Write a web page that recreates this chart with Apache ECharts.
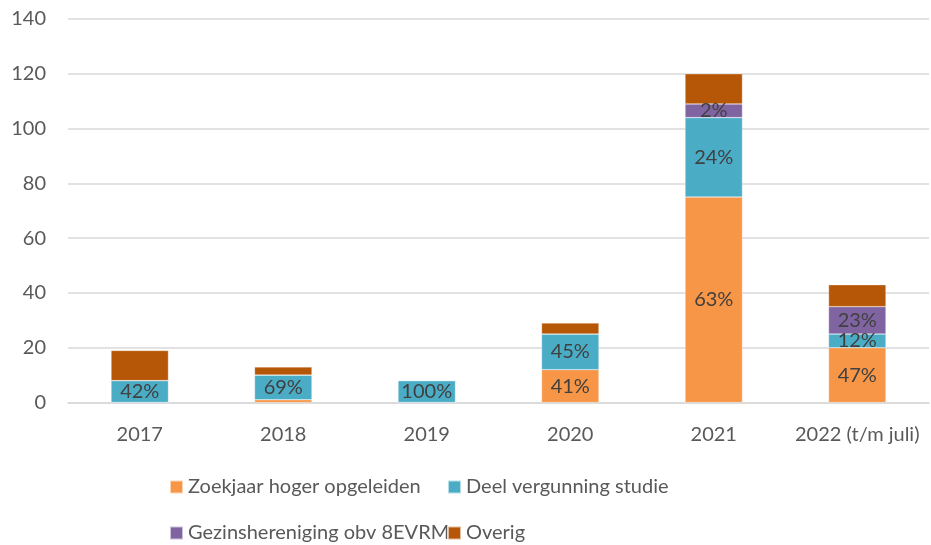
<!DOCTYPE html>
<html>
<head>
<meta charset="utf-8">
<script src="https://cdn.jsdelivr.net/npm/echarts@6/dist/echarts.min.js"></script>
<style>
html, body { margin: 0; padding: 0; background: #fff; }
#chart { width: 931px; height: 545px; }
</style>
</head>
<body>
<div id="chart"></div>
<script>
var categories = ['2017', '2018', '2019', '2020', '2021', '2022 (t/m juli)'];
var seriesNames = ['Zoekjaar hoger opgeleiden', 'Deel vergunning studie', 'Gezinshereniging obv 8EVRM', 'Overig'];
var zoekjaar = [0, 1, 0, 12, 75, 20];
var studie = [8, 9, 8, 13, 29, 5];
var gezin = [0, 0, 0, 0, 5, 10];
var overig = [11, 3, 0, 4, 11, 8];
// percentage labels as printed in the chart
var zoekjaarLabels = ['', '', '', '41%', '63%', '47%'];
var studieLabels = ['42%', '69%', '100%', '45%', '24%', '12%'];
var gezinLabels = ['', '', '', '', '2%', '23%'];
var overigLabels = ['', '', '', '', '', ''];
var yTicks = [0, 20, 40, 60, 80, 100, 120, 140];

var colors = ['#F79646', '#4BACC6', '#8064A2', '#B65708'];
var font = 'Lato';
var fs = 20;

function makeSeries(name, data, labels, color) {
    return {
        name: name,
        type: 'bar',
        stack: 'total',
        barWidth: '40%',
        data: data,
        itemStyle: {
            color: color,
            borderColor: 'rgba(255,255,255,0.6)',
            borderWidth: 0.5
        },
        label: {
            show: true,
            position: 'inside',
            color: '#404040',
            fontFamily: font,
            fontSize: fs,
            formatter: function (p) {
                return labels[p.dataIndex];
            }
        }
    };
}

// one legend per entry, laid out as a 2x2 grid
function makeLegend(name, left, top) {
    return {
        left: left,
        top: top,
        padding: 0,
        itemWidth: 13,
        itemHeight: 13,
        itemGap: 0,
        icon: 'rect',
        textStyle: { color: '#595959', fontFamily: font, fontSize: fs },
        data: [name]
    };
}

var myChart = echarts.init(document.getElementById('chart'));
var option = {
    color: colors,
    animation: false,
    grid: {
        left: 68,
        right: 2,
        top: 19,
        bottom: 142.5
    },
    legend: [
        makeLegend(seriesNames[0], 169, 477),
        makeLegend(seriesNames[1], 447, 477),
        makeLegend(seriesNames[2], 169, 523),
        makeLegend(seriesNames[3], 447, 523)
    ],
    xAxis: {
        type: 'category',
        data: categories,
        axisTick: { show: false },
        axisLine: { lineStyle: { color: '#d9d9d9', width: 1.5 } },
        axisLabel: {
            interval: 0,
            color: '#595959',
            fontFamily: font,
            fontSize: fs,
            margin: 22
        }
    },
    yAxis: {
        type: 'value',
        min: yTicks[0],
        max: yTicks[yTicks.length - 1],
        interval: 20,
        axisLine: { show: false },
        axisTick: { show: false },
        axisLabel: {
            color: '#595959',
            fontFamily: font,
            fontSize: fs,
            margin: 22
        },
        splitLine: { lineStyle: { color: '#d9d9d9', width: 1.5 } }
    },
    series: [
        makeSeries(seriesNames[0], zoekjaar, zoekjaarLabels, colors[0]),
        makeSeries(seriesNames[1], studie, studieLabels, colors[1]),
        makeSeries(seriesNames[2], gezin, gezinLabels, colors[2]),
        makeSeries(seriesNames[3], overig, overigLabels, colors[3])
    ]
};
myChart.setOption(option);
</script>
</body>
</html>
